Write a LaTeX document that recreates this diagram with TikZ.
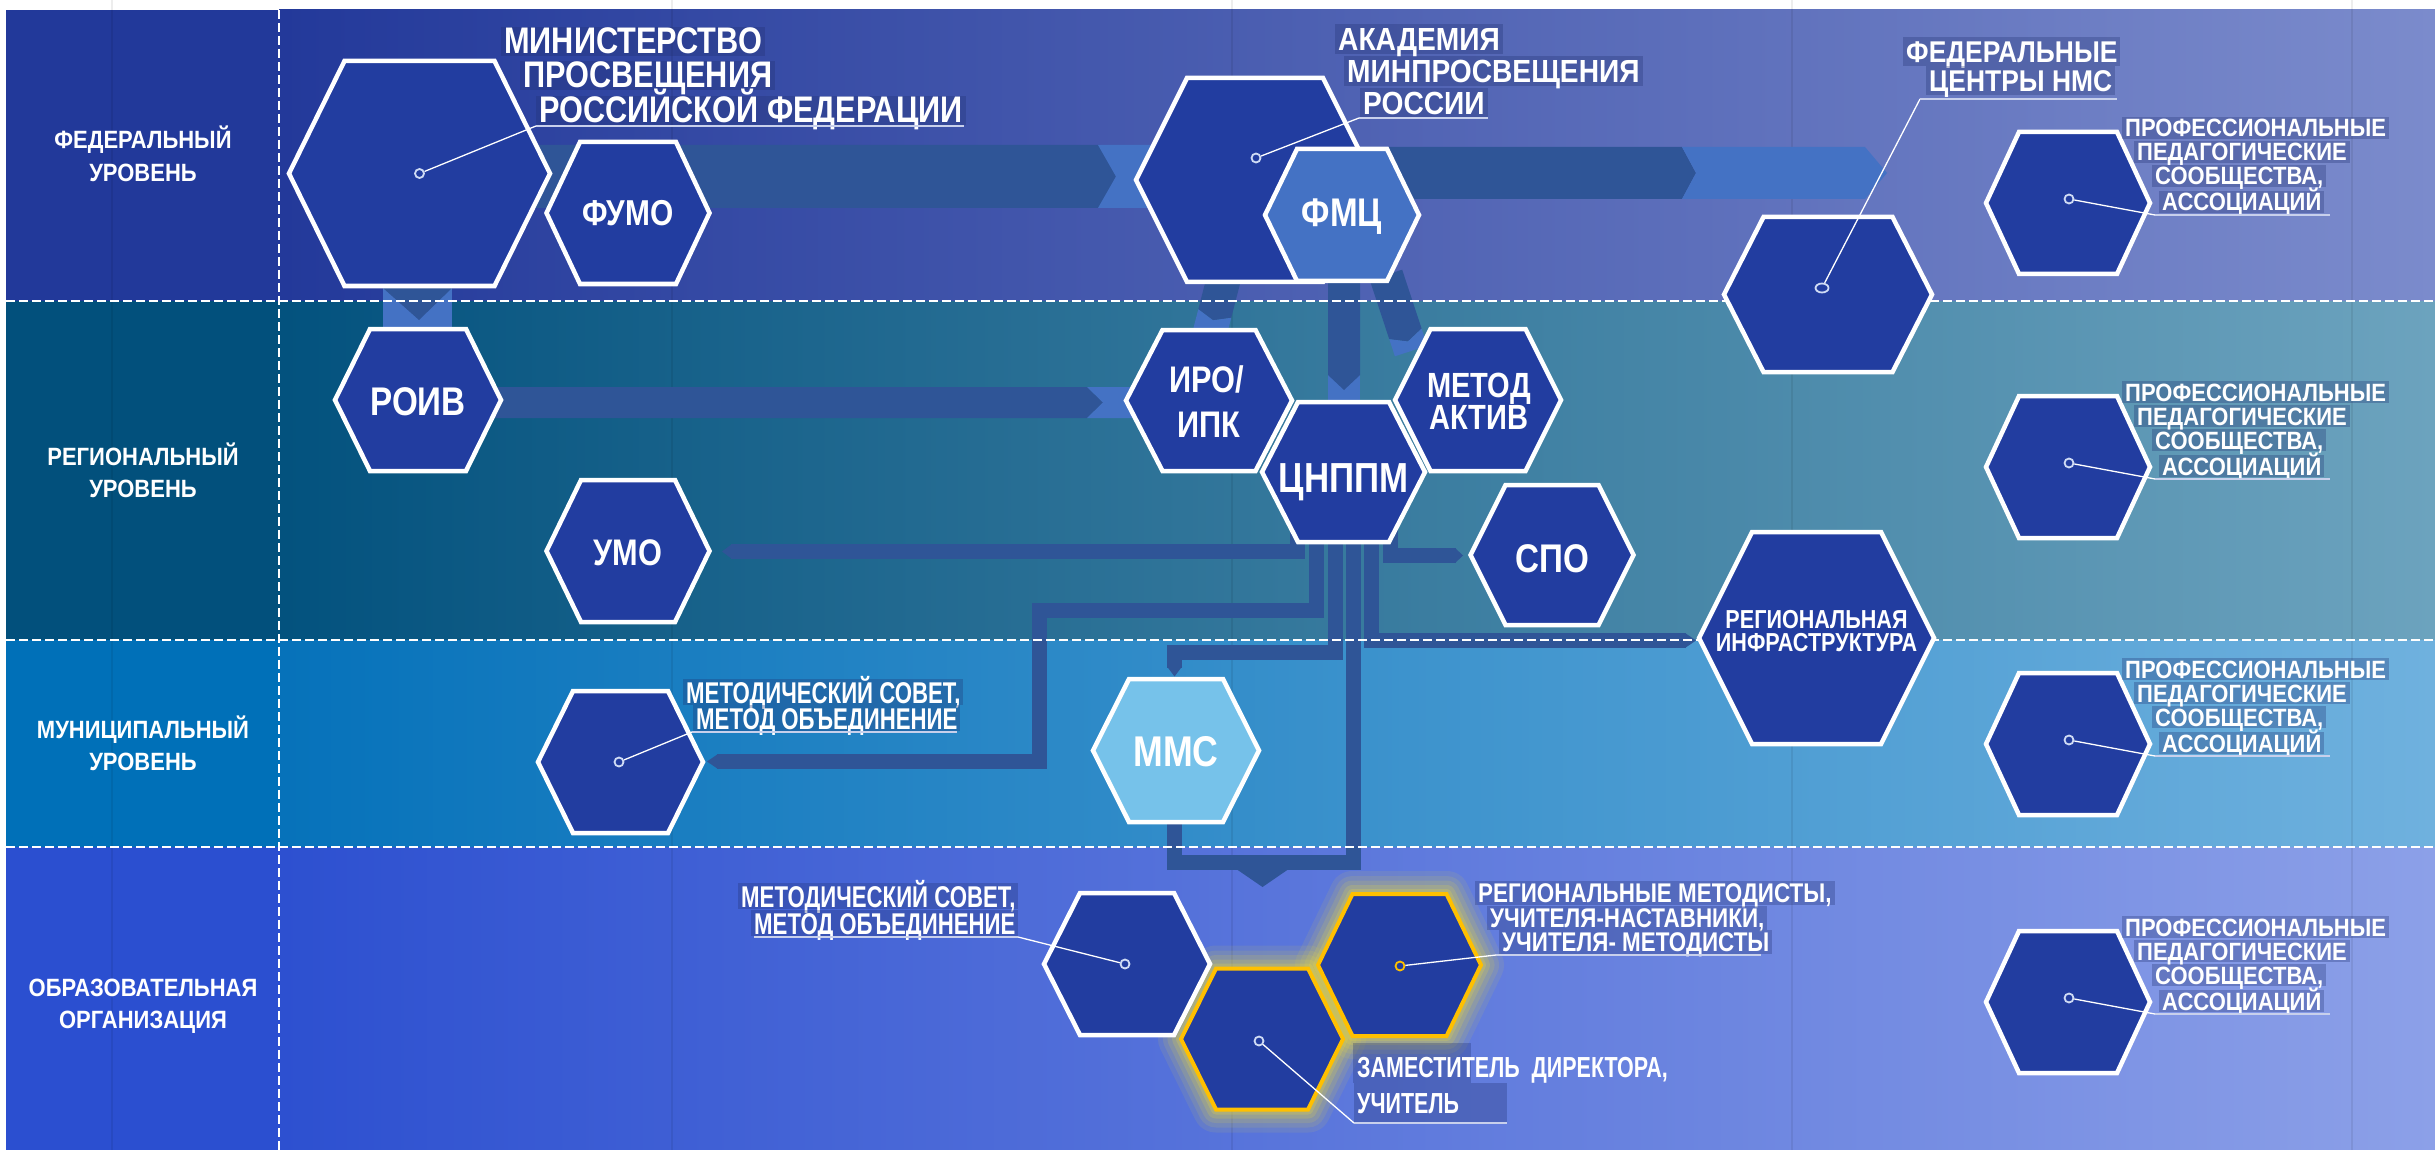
\documentclass[tikz,border=0pt]{standalone}
\usepackage{fontspec}
\setmainfont{Liberation Sans}
\newfontfamily\fa{Liberation Sans}[FakeStretch=0.88]
\newfontfamily\fb{Liberation Sans}[FakeStretch=0.83]
\newfontfamily\fc{Liberation Sans}[FakeStretch=0.74]
\usetikzlibrary{calc,shapes.geometric}
\pgfdeclarelayer{bg}
\pgfdeclarelayer{conn}
\pgfsetlayers{bg,conn,main}
\definecolor{hexfill}{HTML}{223DA0}
\definecolor{cdark}{HTML}{2F5597}
\definecolor{clight}{HTML}{4472C4}
\definecolor{fmcfill}{HTML}{4472C4}
\definecolor{mmsfill}{HTML}{76C2EA}
\definecolor{goldc}{HTML}{FFC000}
\definecolor{glowc}{HTML}{E8D840}
\definecolor{boxc}{HTML}{203070}
\definecolor{dotc}{HTML}{D0DCF5}
\definecolor{ulc}{HTML}{C8D0EC}
\definecolor{fedL}{HTML}{22399A}
\definecolor{fedA}{HTML}{23399A}
\definecolor{fedR}{HTML}{7B8BCC}
\definecolor{regL}{HTML}{02507C}
\definecolor{regA}{HTML}{03527E}
\definecolor{regR}{HTML}{6CA3BE}
\definecolor{munL}{HTML}{0070B8}
\definecolor{munA}{HTML}{0672BA}
\definecolor{munR}{HTML}{6FB1DE}
\definecolor{eduL}{HTML}{2B4FD0}
\definecolor{eduA}{HTML}{2D50D0}
\definecolor{eduR}{HTML}{8CA0E8}
% hexagon: style, x, y, half width, half height, half top edge
\newcommand\hexdraw[6]{%
  \draw[#1] (#2-#4,#3) -- (#2-#6,#3-#5) -- (#2+#6,#3-#5) -- (#2+#4,#3) -- (#2+#6,#3+#5) -- (#2-#6,#3+#5) -- cycle;}
\newcommand\hex[7][]{\hexdraw{hexst,#1}{#3}{#4}{#5}{#6}{#7}\coordinate (#2) at (#3,#4);}
\newcommand\glowhex[5]{\foreach \w/\o in {46/0.10,36/0.12,27/0.15,18/0.2,10/0.25}{\hexdraw{glowc,line width=\w pt,opacity=\o,line join=round}{#1}{#2}{#3}{#4}{#5}}}
% horizontal chevron band: colour, start, end, half height, tip, notch
\newcommand\hchev[6]{%
  \fill[#1] let \p1=#2, \p2=#3 in (\x1,\y1+#4pt) -- (\x2-#5pt,\y1+#4pt) -- (\x2,\y1) -- (\x2-#5pt,\y1-#4pt) -- (\x1,\y1-#4pt) -- (\x1+#6pt,\y1) -- cycle;}
\begin{document}
\begin{tikzpicture}[x=1pt,y=-1pt,
  hexst/.style={fill=hexfill,draw=white,line width=4.5pt,line join=miter},
  conn/.style={draw=cdark,line width=15pt,line join=miter},
  dashln/.style={draw=white,line width=2.5pt,dash pattern=on 9pt off 4pt},
  tx/.style={text=white,inner sep=0pt,anchor=base},
  lab/.style={anchor=base west,text=white,fill=boxc,fill opacity=0.3,text opacity=1,inner xsep=3pt,inner ysep=0pt},
  lM/.style={lab,font=\fb\bfseries\fontsize{37}{40}\selectfont,text height=27pt,text depth=2pt},
  lA/.style={lab,font=\fa\bfseries\fontsize{32}{36}\selectfont,text height=27pt,text depth=3pt},
  lF/.style={lab,font=\fa\bfseries\fontsize{30}{34}\selectfont,text height=26pt,text depth=3pt},
  lP/.style={lab,font=\fa\bfseries\fontsize{25}{28}\selectfont,text height=20pt,text depth=2pt},
  lC/.style={lab,font=\fc\bfseries\fontsize{30}{34}\selectfont,text height=24pt,text depth=2pt},
  lR/.style={lab,font=\fb\bfseries\fontsize{27}{30}\selectfont,text height=21pt,text depth=3pt},
  lD/.style={tx,anchor=base west,font=\fc\bfseries\fontsize{29}{32}\selectfont},
  lv/.style={tx,font=\fa\bfseries\fontsize{25}{28}\selectfont},
  dotn/.style={circle,draw=dotc,line width=1.8pt,fill=hexfill,inner sep=0pt,minimum size=9pt},
  lead/.style={draw=white,line width=1.3pt},
  uline/.style={draw=ulc,line width=2pt}]
\useasboundingbox (0,0) rectangle (2435,1150);
% ---------------- background
\begin{pgfonlayer}{bg}
\fill[white] (0,0) rectangle (2435,1150);
\fill[fedL] (6,10) rectangle (279,301);
\fill[regL] (6,301) rectangle (279,640);
\fill[munL] (6,640) rectangle (279,847);
\fill[eduL] (6,847) rectangle (279,1150);
\shade[left color=fedA,right color=fedR] (279,10) rectangle (2435,301);
\shade[left color=regA,right color=regR] (279,301) rectangle (2435,640);
\shade[left color=munA,right color=munR] (279,640) rectangle (2435,847);
\shade[left color=eduA,right color=eduR] (279,847) rectangle (2435,1150);
\foreach \gx in {112,672,1232,1792,2352} \draw[black,opacity=0.07,line width=1.5pt] (\gx,0) -- (\gx,1150);
\end{pgfonlayer}
% ---------------- level separators
\draw[dashln] (6,301) -- (2435,301);
\draw[dashln] (6,640) -- (2435,640);
\draw[dashln] (6,847) -- (2435,847);
\draw[dashln] (279,10) -- (279,1150);
% ---------------- level labels
\node[lv] (lv1a) at (143,149) {ФЕДЕРАЛЬНЫЙ};
\node[lv] (lv1b) at (143,182) {УРОВЕНЬ};
\node[lv] (lv2a) at (143,465) {РЕГИОНАЛЬНЫЙ};
\node[lv] (lv2b) at (143,497) {УРОВЕНЬ};
\node[lv] (lv3a) at (143,738) {МУНИЦИПАЛЬНЫЙ};
\node[lv] (lv3b) at (143,770) {УРОВЕНЬ};
\node[lv] (lv4a) at (143,996) {ОБРАЗОВАТЕЛЬНАЯ};
\node[lv] (lv4b) at (143,1028) {ОРГАНИЗАЦИЯ};
% ---------------- hexagons
\hex{mint}{419.5}{173.5}{130.5}{112.5}{75}
\hex{fumo}{628}{213}{81.5}{71}{48}
\hex{roiv}{418}{400}{83}{71}{48}
\hex{umo}{628}{551}{81.5}{71}{47}
\hex{mmcm}{620.5}{762}{82.5}{71}{47.5}
\hex{acad}{1255}{180}{119}{102}{68}
\hex[fill=fmcfill]{fmc}{1342}{215}{77}{66}{45}
\hex{fedc}{1828}{294.5}{104}{77.5}{64.5}
\foreach \py/\nm in {203/prof1,467/prof2,744/prof3,1002/prof4}{\hex{\nm}{2068}{\py}{82}{71}{49}}
\hex{iro}{1209}{400.5}{83}{70.5}{46.5}
\hex{metod}{1478}{400}{83}{71}{47.5}
\hex{cnppm}{1343.5}{472}{81.5}{70}{45.5}
\hex{spo}{1552}{555}{81.5}{70}{46.5}
\hex{rinfra}{1816.5}{638}{117.5}{106}{64.5}
\hex[fill=mmsfill]{mms}{1176}{750.5}{83}{71.5}{47}
\glowhex{1262}{1039}{81}{70.5}{46}
\glowhex{1399.5}{965}{81.5}{71}{47}
\hex{smc}{1127}{964}{83}{71}{47}
\hex[draw=goldc,line width=4pt]{dep}{1262}{1039}{81}{70.5}{46}
\hex[draw=goldc,line width=4pt]{rmet}{1399.5}{965}{81.5}{71}{47}
% ---------------- texts in hexagons
\node[tx,font=\fb\bfseries\fontsize{36}{40}\selectfont] (fumoT) at (628,226) {ФУМО};
\node[tx,font=\fb\bfseries\fontsize{40}{44}\selectfont] (roivT) at (418,415) {РОИВ};
\node[tx,font=\fb\bfseries\fontsize{37}{40}\selectfont] (umoT) at (628,565) {УМО};
\node[tx,font=\fb\bfseries\fontsize{37}{40}\selectfont] (iroT1) at (1207,392) {ИРО/};
\node[tx,font=\fb\bfseries\fontsize{37}{40}\selectfont] (iroT2) at (1209,437) {ИПК};
\node[tx,font=\fb\bfseries\fontsize{42}{46}\selectfont] (cnppmT) at (1343.5,492) {ЦНППМ};
\node[tx,font=\fb\bfseries\fontsize{35}{38}\selectfont] (metodT1) at (1479,397) {МЕТОД};
\node[tx,font=\fb\bfseries\fontsize{35}{38}\selectfont] (metodT2) at (1479,429) {АКТИВ};
\node[tx,font=\fb\bfseries\fontsize{40}{44}\selectfont] (spoT) at (1552,572) {СПО};
\node[tx,font=\fb\bfseries\fontsize{40}{44}\selectfont] (fmcT) at (1342,227) {ФМЦ};
\node[tx,font=\fb\bfseries\fontsize{43}{46}\selectfont] (mmsT) at (1176,766) {ММС};
\node[tx,font=\fb\bfseries\fontsize{26}{28}\selectfont] (rinfraT1) at (1816.5,628) {РЕГИОНАЛЬНАЯ};
\node[tx,font=\fb\bfseries\fontsize{26}{28}\selectfont] (rinfraT2) at (1816.5,651) {ИНФРАСТРУКТУРА};
% ---------------- ministry
\node[dotn] (mintdot) at (419.5,173.5) {};
\coordinate (mintL) at (536,126);
\draw[lead] (mintdot) -- (mintL);
\node[lM] (minA) at (501,54) {МИНИСТЕРСТВО};
\node[lM] (minB) at (520,88) {ПРОСВЕЩЕНИЯ};
\node[lM] (minC) at (536,123) {РОССИЙСКОЙ ФЕДЕРАЦИИ};
\draw[uline] (mintL) -- ++(428,0);
% ---------------- academy
\node[dotn] (acaddot) at (1256,158) {};
\coordinate (acadL) at (1359,118);
\draw[lead] (acaddot) -- (acadL);
\node[lA] (acA) at (1335,51) {АКАДЕМИЯ};
\node[lA] (acB) at (1344,83) {МИНПРОСВЕЩЕНИЯ};
\node[lA] (acC) at (1360,115) {РОССИИ};
\draw[uline] (acadL) -- ++(129,0);
% ---------------- federal centres
\node[dotn,ellipse,minimum width=13pt,minimum height=9pt] (fedcdot) at (1822,288) {};
\coordinate (fedcL) at (1920,99);
\draw[lead] (fedcdot) -- (fedcL);
\node[lF] (fcA) at (1903,63) {ФЕДЕРАЛЬНЫЕ};
\node[lF] (fcB) at (1926,92) {ЦЕНТРЫ НМС};
\draw[uline] (fedcL) -- ++(197,0);
% ---------------- professional communities
\foreach \py/\k in {203/1,467/2,744/3,1002/4}{
  \node[dotn] (prof\k dot) at (2069,\py-4) {};
  \coordinate (prof\k L) at (2155,\py+12);
  \draw[lead] (prof\k dot) -- (prof\k L);
  \node[lP] (prof\k a) at (2122,\py-66) {ПРОФЕССИОНАЛЬНЫЕ};
  \node[lP] (prof\k b) at (2134,\py-42) {ПЕДАГОГИЧЕСКИЕ};
  \node[lP] (prof\k c) at (2152,\py-18) {СООБЩЕСТВА,};
  \node[lP] (prof\k d) at (2159,\py+8) {АССОЦИАЦИЙ};
  \draw[uline] (prof\k L) -- ++(175,0);
}
% ---------------- municipal methodical council
\node[dotn] (mmcmdot) at (619,762) {};
\coordinate (mmcmL) at (692,732);
\draw[lead] (mmcmdot) -- (mmcmL);
\node[lC] (mcA) at (683,703) {МЕТОДИЧЕСКИЙ СОВЕТ,};
\node[lC] (mcB) at (693,729) {МЕТОД ОБЪЕДИНЕНИЕ};
\draw[uline] (mmcmL) -- ++(265,0);
% ---------------- school methodical council
\node[dotn] (smcdot) at (1125,964) {};
\coordinate (smcL) at (1018,937);
\draw[lead] (smcdot) -- (smcL);
\node[lC] (scA) at (738,907) {МЕТОДИЧЕСКИЙ СОВЕТ,};
\node[lC] (scB) at (751,934) {МЕТОД ОБЪЕДИНЕНИЕ};
\draw[uline] (smcL) -- ++(-264,0);
% ---------------- regional methodists
\node[dotn,draw=goldc] (rmetdot) at (1400,966) {};
\coordinate (rmetL) at (1496,955);
\draw[lead] (rmetdot) -- (rmetL);
\node[lR] (rmA) at (1475,902) {РЕГИОНАЛЬНЫЕ МЕТОДИСТЫ,};
\node[lR] (rmB) at (1487,927) {УЧИТЕЛЯ-НАСТАВНИКИ,};
\node[lR] (rmC) at (1499,951) {УЧИТЕЛЯ- МЕТОДИСТЫ};
\draw[uline] (rmetL) -- ++(265,0);
% ---------------- deputy director / teacher
\node[dotn] (depdot) at (1259,1041) {};
\coordinate (depL) at (1354,1123);
\draw[lead] (depdot) -- (depL);
\fill[boxc,opacity=0.3] (1353,1043) rectangle (1471,1083);
\fill[boxc,opacity=0.3] (1354,1083) rectangle (1507,1123);
\node[lD] (dpA) at (1357,1077) {ЗАМЕСТИТЕЛЬ\ \ ДИРЕКТОРА,};
\node[lD] (dpB) at (1357,1113) {УЧИТЕЛЬ};
\draw[uline] (depL) -- ++(153,0);
% ---------------- connectors
\begin{pgfonlayer}{conn}
\hchev{cdark}{($(mint)+(100,3)$)}{($(acad)+(-139,-3.5)$)}{31.5}{16}{0}
\hchev{clight}{($(acad)+(-157,-3.5)$)}{($(acad)+(-60,-3.5)$)}{31.5}{16}{18}
\hchev{cdark}{($(fmc)+(-40,-42)$)}{($(fedc)+(-132,-121.5)$)}{26}{14}{0}
\hchev{clight}{($(fedc)+(-146,-121.5)$)}{($(fedc)+(59,-121.5)$)}{26}{22}{14}
\hchev{cdark}{($(roiv)+(60,2.5)$)}{($(iro)+(-106,2)$)}{15.5}{16}{0}
\hchev{clight}{($(iro)+(-122,2)$)}{($(iro)+(-60,2)$)}{15.5}{5}{16}
% ministry -> roiv
\fill[clight] ($(mint)+(-36.5,100)$) rectangle ($(roiv)+(34,-55)$);
\fill[cdark] ($(mint)+(-36.5,100)$) -- ($(mint)+(32.5,100)$) -- ($(mint)+(32.5,114.5)$) -- ($(roiv)+(1,-80)$) -- ($(mint)+(-36.5,114.5)$) -- cycle;
% fmc -> cnppm
\fill[clight] ($(fmc)+(-14,50)$) rectangle ($(cnppm)+(16.5,-60)$);
\fill[cdark] ($(fmc)+(-14,50)$) -- ($(fmc)+(18,50)$) -- ($(cnppm)+(16.5,-97)$) -- ($(cnppm)+(0.5,-82)$) -- ($(cnppm)+(-15.5,-97)$) -- cycle;
% academy -> iro
\begin{scope}[shift={(iro)}]
  \fill[cdark] (0.5,-134.75) -- (33.5,-126.25) -- (22.2,-82.7) -- (4,-80.2) -- (-10.7,-91.2) -- cycle;
  \fill[clight] (-10.7,-91.2) -- (4,-80.2) -- (22.2,-82.7) -- (17.5,-64.25) -- (-15.5,-72.75) -- cycle;
\end{scope}
% fmc -> metod aktiv
\begin{scope}[shift={(metod)}]
  \fill[cdark] (-108.15,-119.7) -- (-75.85,-130.3) -- (-56.4,-71.4) -- (-70.1,-58.5) -- (-88.75,-60.8) -- cycle;
  \fill[clight] (-88.75,-60.8) -- (-70.1,-58.5) -- (-56.4,-71.4) -- (-50.8,-54.3) -- (-83.1,-43.7) -- cycle;
\end{scope}
% cnppm -> umo
\draw[conn] ($(cnppm)+(-46,58)$) |- ($(umo)+(103,0.5)$);
\fill[cdark] ($(umo)+(104,-7)$) -- ($(umo)+(94,0.5)$) -- ($(umo)+(104,8)$) -- cycle;
% cnppm -> municipal council
\draw[conn] ($(cnppm)+(-27,58)$) |- ($(mmcm)+(418.5,-152)$) |- ($(mmcm)+(96.5,-0.5)$);
\fill[cdark] ($(mmcm)+(97.5,-8)$) -- ($(mmcm)+(86.5,-0.5)$) -- ($(mmcm)+(97.5,7)$) -- cycle;
% cnppm -> mms
\draw[conn] ($(cnppm)+(-8.5,58)$) |- ($(mms)+(-1.5,-98)$) -- ($(mms)+(-1.5,-83)$);
\fill[cdark] ($(mms)+(-9,-84)$) -- ($(mms)+(6,-84)$) -- ($(mms)+(-1.5,-74)$) -- cycle;
% cnppm / mms -> school
\draw[conn] ($(cnppm)+(10,58)$) |- ($(mms)+(-1.5,112)$) -- ($(mms)+(-1.5,60)$);
\fill[cdark] ($(mms)+(61,119)$) -- ($(mms)+(112,119)$) -- ($(mms)+(86.5,136.5)$) -- cycle;
% cnppm -> regional infrastructure
\draw[conn] ($(cnppm)+(28,58)$) |- ($(rinfra)+(-130.5,2.5)$);
\fill[cdark] ($(rinfra)+(-131.5,-5)$) -- ($(rinfra)+(-120.5,2.5)$) -- ($(rinfra)+(-131.5,10)$) -- cycle;
% cnppm -> spo
\draw[conn] ($(cnppm)+(47,58)$) |- ($(spo)+(-96,0.5)$);
\fill[cdark] ($(spo)+(-97,-7)$) -- ($(spo)+(-89,0.5)$) -- ($(spo)+(-97,8)$) -- cycle;
\end{pgfonlayer}
\end{tikzpicture}
\end{document}
